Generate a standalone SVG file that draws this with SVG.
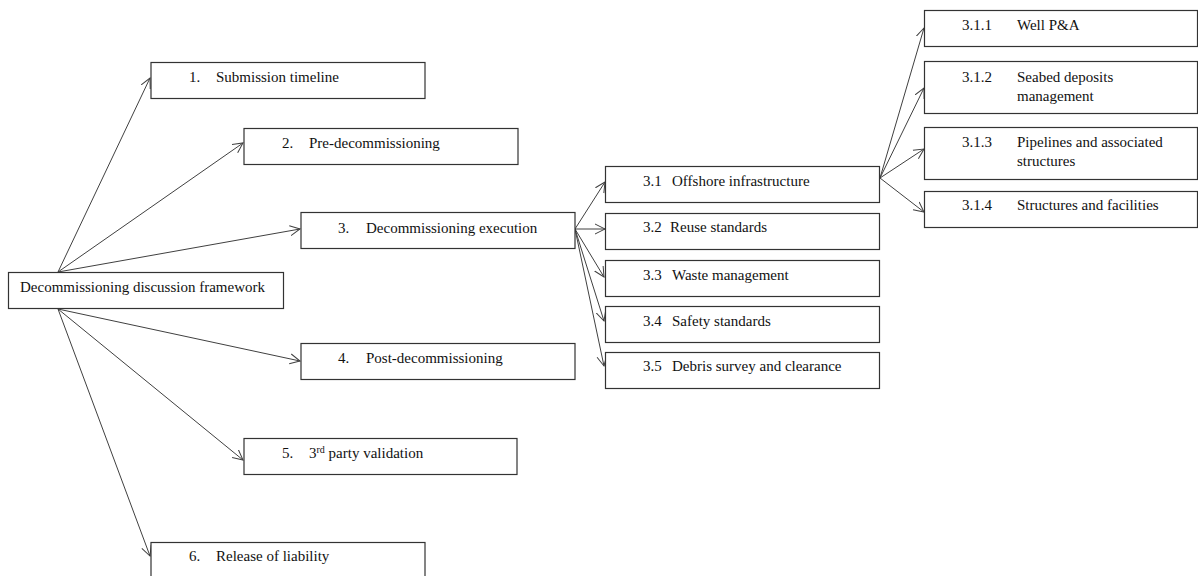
<svg xmlns="http://www.w3.org/2000/svg" width="1198" height="576" viewBox="0 0 1198 576">
<defs>
<marker id="arr" markerUnits="userSpaceOnUse" markerWidth="12" markerHeight="12" refX="10" refY="5" orient="auto" viewBox="0 0 12 10">
<path d="M0,0 L10,5 L0,10" fill="none" stroke="#404040" stroke-width="1"/>
</marker>
<style>
rect{fill:#fff;stroke:#333;stroke-width:1.2}
text{font-family:"Liberation Serif","Times New Roman",serif;font-size:15px;fill:#111}
.sup{font-size:10px}
#connectors line{stroke:#404040;stroke-width:1;marker-end:url(#arr)}
</style>
</defs>
<rect x="0" y="0" width="1198" height="576" style="fill:#fff;stroke:none"/>
<g id="connectors">
<line x1="58" y1="272" x2="150" y2="78"/>
<line x1="58" y1="272" x2="243" y2="143"/>
<line x1="58" y1="272" x2="300" y2="229"/>
<line x1="58" y1="309" x2="300" y2="361"/>
<line x1="58" y1="309" x2="243" y2="460"/>
<line x1="58" y1="309" x2="150" y2="556"/>
<line x1="575" y1="229" x2="605" y2="182"/>
<line x1="575" y1="229" x2="605" y2="229"/>
<line x1="575" y1="229" x2="604" y2="277"/>
<line x1="575" y1="229" x2="604" y2="321"/>
<line x1="575" y1="229" x2="604" y2="366"/>
<line x1="880" y1="178" x2="924" y2="28"/>
<line x1="880" y1="178" x2="924" y2="88"/>
<line x1="880" y1="178" x2="924" y2="149"/>
<line x1="880" y1="178" x2="924" y2="212"/>
</g>
<g id="root"><rect x="8.5" y="272.5" width="275" height="36"/><text x="20" y="292">Decommissioning discussion framework</text></g>
<g id="n1"><rect x="151" y="62.5" width="274" height="36"/><text x="189" y="82">1.</text><text x="216" y="82">Submission timeline</text></g>
<g id="n2"><rect x="244" y="128.5" width="274" height="36"/><text x="282" y="148">2.</text><text x="309" y="148">Pre-decommissioning</text></g>
<g id="n3"><rect x="301" y="212.5" width="274" height="36"/><text x="338" y="233">3.</text><text x="366" y="233">Decommissioning execution</text></g>
<g id="n4"><rect x="301" y="343.5" width="274" height="36"/><text x="338" y="363">4.</text><text x="366" y="363">Post-decommissioning</text></g>
<g id="n5"><rect x="244" y="438.5" width="273" height="36"/><text x="282" y="458">5.</text><text x="309" y="458">3<tspan class="sup" dy="-5">rd</tspan><tspan dy="5"> party validation</tspan></text></g>
<g id="n6"><rect x="151" y="542.5" width="274" height="40"/><text x="189" y="561">6.</text><text x="216" y="561">Release of liability</text></g>
<g id="n31"><rect x="605.5" y="166.5" width="274" height="36"/><text x="643" y="186">3.1</text><text x="672" y="186">Offshore infrastructure</text></g>
<g id="n32"><rect x="605.5" y="213.5" width="274" height="36"/><text x="643" y="232">3.2</text><text x="670" y="232">Reuse standards</text></g>
<g id="n33"><rect x="605.5" y="260.5" width="274" height="36"/><text x="643" y="280">3.3</text><text x="672" y="280">Waste management</text></g>
<g id="n34"><rect x="605.5" y="306.5" width="274" height="36"/><text x="643" y="326">3.4</text><text x="672" y="326">Safety standards</text></g>
<g id="n35"><rect x="605.5" y="352.5" width="274" height="36"/><text x="643" y="371">3.5</text><text x="672" y="371">Debris survey and clearance</text></g>
<g id="n311"><rect x="924.5" y="10.5" width="273" height="36"/><text x="962" y="30">3.1.1</text><text x="1017" y="30">Well P&amp;A</text></g>
<g id="n312"><rect x="924.5" y="61.5" width="273" height="52"/><text x="962" y="82">3.1.2</text><text x="1017" y="82">Seabed deposits</text><text x="1017" y="101">management</text></g>
<g id="n313"><rect x="924.5" y="127.5" width="273" height="52"/><text x="962" y="147">3.1.3</text><text x="1017" y="147">Pipelines and associated</text><text x="1017" y="166">structures</text></g>
<g id="n314"><rect x="924.5" y="191.5" width="273" height="36"/><text x="962" y="210">3.1.4</text><text x="1017" y="210">Structures and facilities</text></g>
</svg>
